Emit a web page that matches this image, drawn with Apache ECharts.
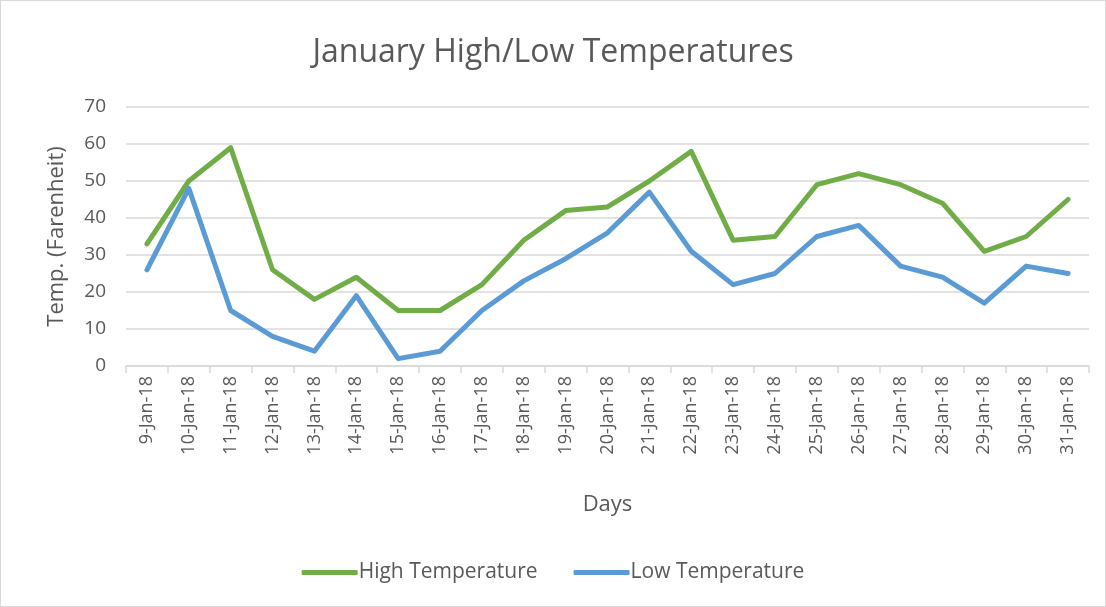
<!DOCTYPE html>
<html><head><meta charset="utf-8">
<script src="https://cdn.jsdelivr.net/npm/echarts@6/dist/echarts.min.js"></script>
<style>html,body{margin:0;padding:0;background:#fff}#c{width:1106px;height:607px;box-sizing:border-box;border:1px solid #d9d9d9;}</style>
</head><body><div id="c"></div>
<script>
const categories = ['9-Jan-18','10-Jan-18','11-Jan-18','12-Jan-18','13-Jan-18','14-Jan-18','15-Jan-18','16-Jan-18','17-Jan-18','18-Jan-18','19-Jan-18','20-Jan-18','21-Jan-18','22-Jan-18','23-Jan-18','24-Jan-18','25-Jan-18','26-Jan-18','27-Jan-18','28-Jan-18','29-Jan-18','30-Jan-18','31-Jan-18'];
const highTemps = [33,50,59,26,18,24,15,15,22,34,42,43,50,58,34,35,49,52,49,44,31,35,45];
const lowTemps  = [26,48,15,8,4,19,2,4,15,23,29,36,47,31,22,25,35,38,27,24,17,27,25];
const FONT = "'Open Sans', 'Noto Sans', sans-serif";
const chart = echarts.init(document.getElementById('c'), null, {renderer:'canvas'});
chart.setOption({
  animation:false,
  title:{text:'January High/Low Temperatures', left:'center', top:31,
    textStyle:{fontFamily:FONT, fontSize:32, fontWeight:'normal', color:'#595959'}},
  grid:{left:125, right:16, top:106, bottom:240},
  legend:{bottom:18, left:'center', itemWidth:56, itemHeight:5, itemGap:36,
    icon:'roundRect',
    textStyle:{fontFamily:FONT, fontSize:21, color:'#595959', padding:[0,0,0,-4]},
    data:['High Temperature','Low Temperature']},
  xAxis:{type:'category', data:categories, boundaryGap:true,
    name:'Days', nameLocation:'middle', nameGap:128,
    nameTextStyle:{fontFamily:FONT, fontSize:22, color:'#595959'},
    axisLine:{lineStyle:{color:'#d9d9d9', width:1.5}},
    axisTick:{show:true, length:7, lineStyle:{color:'#d9d9d9', width:1.5}},
    axisLabel:{rotate:90, interval:0, fontFamily:FONT, fontSize:18, color:'#595959', margin:10}},
  yAxis:{type:'value', min:0, max:70, interval:10,
    name:'Temp. (Farenheit)', nameLocation:'middle', nameGap:58,
    nameTextStyle:{fontFamily:FONT, fontSize:22, color:'#595959'},
    axisLine:{show:false}, axisTick:{show:false},
    axisLabel:{fontFamily:FONT, fontSize:19, color:'#595959', margin:20},
    splitLine:{lineStyle:{color:'#d9d9d9', width:1.5}}},
  series:[
    {name:'High Temperature', type:'line', data:highTemps, symbol:'none',
     lineStyle:{color:'#70AD47', width:5, cap:'round', join:'round'}, itemStyle:{color:'#70AD47'}},
    {name:'Low Temperature', type:'line', data:lowTemps, symbol:'none',
     lineStyle:{color:'#5B9BD5', width:5, cap:'round', join:'round'}, itemStyle:{color:'#5B9BD5'}}
  ]
});
</script></body></html>
